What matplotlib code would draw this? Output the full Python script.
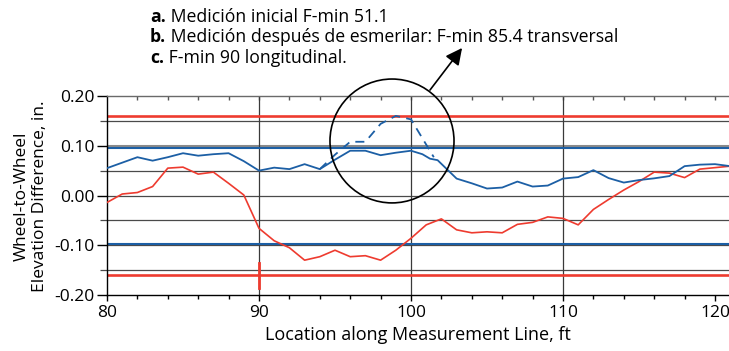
import matplotlib
matplotlib.use("Agg")
import matplotlib.pyplot as plt
from matplotlib.patches import Ellipse

# ---------------- data ----------------
red_x = list(range(80, 122))
red_y = [-0.014, 0.003, 0.006, 0.018, 0.055, 0.057, 0.043, 0.047, 0.0245, 0.001,
         -0.066, -0.091, -0.105, -0.130, -0.123, -0.110, -0.123, -0.121, -0.130, -0.110,
         -0.086, -0.059, -0.047, -0.069, -0.075, -0.073, -0.075, -0.058, -0.054, -0.043,
         -0.046, -0.059, -0.028, -0.008, 0.011, 0.028, 0.047, 0.045, 0.036, 0.053,
         0.056, 0.059]

blue_x = [80, 81, 82, 83, 84, 85, 86, 87, 88, 89, 90, 91, 92, 93, 94, 95, 96, 97, 98, 99,
          100, 100.75, 101.25, 101.75, 103, 104, 105, 106, 107, 108, 109, 110, 111, 112,
          113, 114, 115, 116, 117, 118, 119, 120, 121]
blue_y = [0.055, 0.066, 0.077, 0.070, 0.077, 0.085, 0.080, 0.083, 0.085, 0.069,
          0.050, 0.056, 0.053, 0.063, 0.053, 0.072, 0.090, 0.090, 0.081, 0.086,
          0.090, 0.083, 0.074, 0.071, 0.034, 0.0245, 0.014, 0.016, 0.028, 0.018,
          0.020, 0.034, 0.037, 0.051, 0.035, 0.026, 0.031, 0.0345, 0.039, 0.059,
          0.062, 0.063, 0.059]

dash_x = [94, 95, 96, 97, 98, 99, 100, 101.5]
dash_y = [0.053, 0.082, 0.108, 0.108, 0.144, 0.160, 0.153, 0.077]

red_limits = [0.16, -0.16]
blue_limits = [0.095, -0.097]
marker_x = 90
marker_range = (-0.135, -0.185)

x_ticks = [80, 90, 100, 110, 120]
y_ticks = [0.20, 0.10, 0.00, -0.10, -0.20]
y_tick_labels = ["0.20", "0.10", "0.00", "-0.10", "-0.20"]

notes = [("a.", " Medición inicial F-min 51.1"),
         ("b.", " Medición después de esmerilar: F-min 85.4 transversal"),
         ("c.", " F-min 90 longitudinal.")]
x_label = "Location along Measurement Line, ft"
y_label = "Wheel-to-Wheel\nElevation Difference, in."

# ---------------- style ----------------
RED = "#ee3b2f"
BLUE = "#1c5fa5"
GRID = "#4a4a4a"
plt.rcParams["font.family"] = ["Open Sans", "DejaVu Sans"]

W, H = 729, 351
fig = plt.figure(figsize=(W / 100, H / 100), dpi=100)
ax = fig.add_axes([107 / W, 56 / H, 623.2 / W, 199 / H])
ax.set_xlim(80, 121)
ax.set_ylim(-0.20, 0.20)

# grid
for yv in [0.15, 0.05, 0.0, -0.05, -0.10, -0.15]:
    ax.axhline(yv, color=GRID, lw=0.9, zorder=1)
ax.axhline(0.10, color="#8a8a8a", lw=2.2, zorder=1)
for xv in [90, 100, 110]:
    ax.axvline(xv, color="#3a3a3a", lw=0.9, zorder=1)

# limit lines
for v in red_limits:
    ax.axhline(v, color=RED, lw=1.9, zorder=2)
for v in blue_limits:
    ax.axhline(v, color=BLUE, lw=1.5, zorder=2)
ax.plot([marker_x, marker_x], marker_range, color=RED, lw=2.0, zorder=3)

# data
ax.plot(red_x, red_y, color=RED, lw=1.2, zorder=4)
ax.plot(blue_x, blue_y, color=BLUE, lw=1.3, zorder=4)
ax.plot(dash_x, dash_y, color=BLUE, lw=1.3, ls=(0, (5, 3.5)), zorder=4)

# circle + arrow
circ = Ellipse((98.75, 0.1096), 8.16, 0.249, fill=False, ec="black", lw=1.2,
               clip_on=False, zorder=5)
ax.add_patch(circ)
ax.annotate("", xy=(103.36, 0.2965), xytext=(101.25, 0.212),
            arrowprops=dict(arrowstyle="-|>,head_length=1.0,head_width=0.5",
                            color="black", lw=1.2, shrinkA=0, shrinkB=0),
            annotation_clip=False, zorder=5)

# spines / ticks
ax.spines["right"].set_visible(False)
ax.spines["top"].set_color("#6a6a6a")
for s in ["left", "bottom", "top"]:
    ax.spines[s].set_linewidth(1.0)

ax.set_xticks(x_ticks)
ax.set_xticks(range(82, 121, 2), minor=True)
ax.set_yticks(y_ticks)
ax.set_yticklabels(y_tick_labels)
ax.set_yticks([0.15, 0.05, -0.05, -0.15], minor=True)
ax.tick_params(axis="x", which="major", direction="out", length=4, width=1,
               labelsize=12.5, pad=3)
ax.tick_params(axis="x", which="minor", direction="out", length=3, width=1)
ax.tick_params(axis="y", which="major", direction="out", length=7, width=1,
               labelsize=12.5, pad=2)
ax.tick_params(axis="y", which="minor", direction="out", length=5, width=0.9,
               color=GRID)

top = ax.secondary_xaxis("top")
top.set_xticks([])
top.set_xticks(range(82, 121, 2), minor=True)
top.tick_params(which="minor", direction="in", length=3, width=1, color="#555555")
top.spines["top"].set_visible(False)

# labels
fig.text(418 / W, 1 - 340 / H, x_label, ha="center", va="baseline", fontsize=13)
fig.text(31 / W, 1 - 196.5 / H, y_label, ha="center", va="center",
         rotation=90, multialignment="center", fontsize=12.5, linespacing=1.25)

baselines = [21.5, 42.5, 63]
for (b, rest), yb in zip(notes, baselines):
    tb = fig.text(150 / W, 1 - yb / H, b, ha="left", va="baseline",
                  fontsize=12.7, fontweight="bold")
    ax.annotate(rest, xy=(1, 0), xycoords=tb, ha="left", va="bottom",
                fontsize=12.7, annotation_clip=False)

fig.savefig("out.png", dpi=100)
